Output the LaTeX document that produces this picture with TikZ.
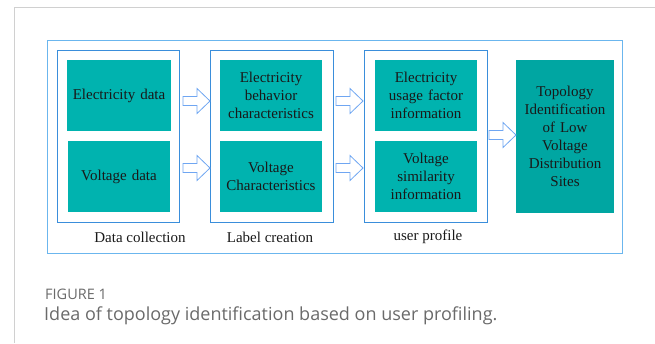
\documentclass[tikz,border=0pt]{standalone}
\usepackage{fontspec}
\setmainfont{Liberation Serif}
\newfontfamily\capfont{Open Sans}
\definecolor{tealbox}{HTML}{00B3AF}
\definecolor{tealbig}{HTML}{00A6A2}
\definecolor{grpblue}{HTML}{3A8EDB}
\definecolor{outblue}{HTML}{6BB6EE}
\definecolor{arrblue}{HTML}{6FA6F2}
\definecolor{capgray}{HTML}{6A6A6A}
\definecolor{framegray}{HTML}{D0D0D0}
\tikzset{
  tbox/.style={fill=tealbox, draw=none, inner sep=2pt, align=center, text width=98pt,
    font=\fontsize{15}{18}\selectfont, text=black!90},
  grp/.style={draw=grpblue, line width=0.9pt, minimum width=122pt, minimum height=172pt, inner sep=0pt},
  glabel/.style={font=\fontsize{15}{18}\selectfont, text=black!90, inner sep=0pt},
  barrowstyle/.style={draw=arrblue, fill=white, line width=0.8pt, line join=miter},
}
\newcommand{\barrow}[3]{% name, x tail, y center
  \draw[barrowstyle] (#2,#3-4.5) -- ++(14,0) -- ++(0,-8) -- ++(13,12.5) -- ++(-13,12.5) -- ++(0,-8) -- ++(-14,0) -- cycle;
  \coordinate (#1) at (#2+27,#3);}
\begin{document}
\begin{tikzpicture}[x=1pt,y=-1pt]
\useasboundingbox (0,0) rectangle (655,343);
\draw[framegray, line width=1pt] (14.5,343) -- (14.5,7.5) -- (655,7.5);
\node[draw=outblue, line width=1pt, minimum width=575pt, minimum height=213pt, inner sep=0pt] (outer) at (334.5,146.5) {};
% groups
\node[grp] (g1) at (118,136) {};
\node[grp, minimum width=123pt] (g2) at (271.5,136) {};
\node[grp, minimum width=123pt] (g3) at (425.5,136) {};
% teal boxes
\node[tbox, minimum width=104pt, minimum height=71pt] (e1) at (119,95.5) {Electricity data};
\node[tbox, minimum width=102pt, minimum height=71pt] (v1) at (119,176.5) {Voltage data};
\node[tbox, minimum width=102pt, minimum height=71pt] (e2) at (271,95.5) {Electricity\\ behavior\\ characteristics};
\node[tbox, minimum width=102pt, minimum height=71pt] (v2) at (271,176.5) {Voltage\\ Characteristics};
\node[tbox, minimum width=102pt, minimum height=71pt] (e3) at (426,95.5) {Electricity\\ usage factor\\ information};
\node[tbox, minimum width=102pt, minimum height=71pt] (v3) at (426,176.5) {Voltage\\ similarity\\ information};
\node[tbox, fill=tealbig, text width=94pt, minimum width=96pt, minimum height=153pt] (big) at (565,136.5) {Topology\\ Identification\\ of Low\\ Voltage\\ Distribution\\ Sites};
% group labels
\node[glabel] (l1) at (140,237) {Data collection};
\node[glabel] (l2) at (270,237) {Label creation};
\node[glabel] (l3) at (428,237) {user profile};
% block arrows
\barrow{a1}{183}{101}
\barrow{a2}{183}{168}
\barrow{a3}{336}{101}
\barrow{a4}{336}{168}
\barrow{a5}{489}{135}
% caption
\node[anchor=base west, inner sep=0pt, font=\capfont\fontsize{14.5}{16}\selectfont, text=capgray] (fig) at (45,299) {FIGURE 1};
\node[anchor=base west, inner sep=0pt, font=\capfont\fontsize{18}{20}\selectfont, text=capgray] (cap) at (44,320) {Idea of topology identification based on user profiling.};
\end{tikzpicture}
\end{document}
